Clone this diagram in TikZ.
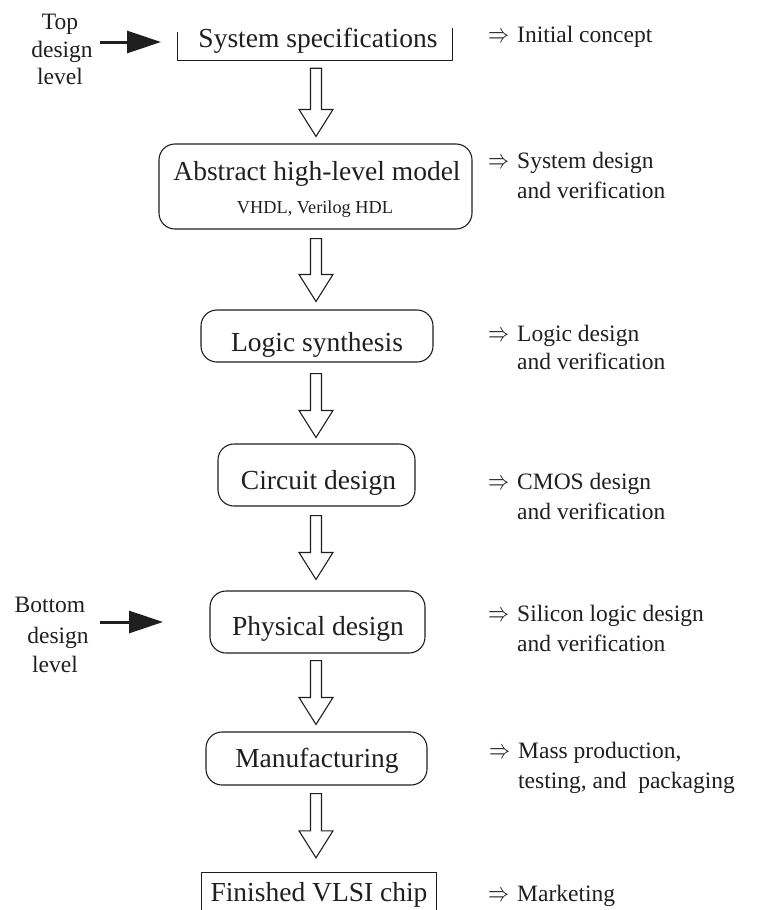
\documentclass[tikz,border=0pt]{standalone}
\usepackage{fontspec}
\setmainfont{Liberation Serif}
\usepackage{graphicx}
\usetikzlibrary{arrows.meta,calc}
\definecolor{ink}{gray}{0.12}
\tikzset{
  box/.style={draw=ink, line width=1.1pt, rounded corners=16pt, inner sep=0pt},
  plainbox/.style={inner sep=0pt},
  openline/.style={draw=ink, line width=1.1pt},
  boxtext/.style={inner sep=0pt, anchor=base, text=ink, font=\fontsize{27.5}{33}\selectfont},
  subtext/.style={inner sep=0pt, anchor=base, text=ink, font=\fontsize{18.3}{22}\selectfont},
  sidetext/.style={inner sep=0pt, anchor=base west, text=ink, font=\fontsize{23.5}{28}\selectfont},
  lefttext/.style={inner sep=0pt, anchor=base, text=ink, font=\fontsize{23.5}{28}\selectfont},
  implies/.style={inner sep=0pt, anchor=base west, text=ink},
  pointer/.style={draw=ink, line width=3pt, -{Triangle[length=34pt,width=22pt]}},
  blockarrow/.style 2 args={draw=ink, line width=1.1pt, line join=miter, to path={
    let \p1=(\tikztostart), \p2=(\tikztotarget) in
    (\x1-5.5pt,\y1-#1) -- (\x1-5.5pt,\y2+#2+27pt) -- (\x1-17pt,\y2+#2+27pt)
    -- (\x1,\y2+#2) -- (\x1+17pt,\y2+#2+27pt) -- (\x1+5.5pt,\y2+#2+27pt)
    -- (\x1+5.5pt,\y1-#1) -- cycle}},
}
\newcommand{\impl}{\scalebox{2.1}[2.7]{$\Rightarrow$}}
\begin{document}
\begin{tikzpicture}[x=1pt,y=-1pt]
\useasboundingbox (0,0) rectangle (761,910);
\coordinate (ax) at (316,0);

% ---- boxes ----
\node[plainbox, minimum width=274pt, minimum height=32pt] (b1) at (315,44) {};
\draw[openline] ([yshift=-4pt]b1.north west) -- (b1.south west) -- (b1.south east) -- (b1.north east);
\node[box, minimum width=313pt, minimum height=85pt] (b2) at (315.5,186.5) {};
\node[box, minimum width=232pt, minimum height=52pt] (b3) at (317,336) {};
\node[box, minimum width=197pt, minimum height=62pt] (b4) at (316.5,475) {};
\node[box, minimum width=215pt, minimum height=62pt] (b5) at (317.5,622) {};
\node[box, minimum width=221pt, minimum height=53pt] (b6) at (316.5,758.5) {};
\node[plainbox, minimum width=234pt, minimum height=40pt] (b7) at (319,893) {};
\draw[openline] (b7.south west) -- (b7.north west) -- (b7.north east) -- (b7.south east);

% ---- box texts ----
\node[boxtext] (t1) at (318,47) {System specifications};
\node[boxtext] (t2a) at (317,180) {Abstract high-level model};
\node[subtext] (t2b) at (315,213) {VHDL, Verilog HDL};
\node[boxtext] (t3) at (317,351) {Logic synthesis};
\node[boxtext] (t4) at (318.5,489) {Circuit design};
\node[boxtext] (t5) at (318,635) {Physical design};
\node[boxtext] (t6) at (317,767) {Manufacturing};
\node[boxtext] (t7) at (319,901) {Finished VLSI chip};

% ---- block arrows ----
\draw[blockarrow={8pt}{7pt}] (b1.south -| ax) to (b2.north -| ax);
\draw[blockarrow={9pt}{8pt}] (b2.south -| ax) to (b3.north -| ax);
\draw[blockarrow={11pt}{6pt}] (b3.south -| ax) to (b4.north -| ax);
\draw[blockarrow={9pt}{11pt}] (b4.south -| ax) to (b5.north -| ax);
\draw[blockarrow={7pt}{7pt}] (b5.south -| ax) to (b6.north -| ax);
\draw[blockarrow={8pt}{15pt}] (b6.south -| ax) to (b7.north -| ax);

% ---- left labels ----
\node[lefttext] (top1) at (60,29) {Top};
\node[lefttext] (top2) at (62,57) {design};
\node[lefttext] (top3) at (60,84) {level};
\coordinate (pa1) at (100,42);
\coordinate (pa2) at (161,42);
\draw[pointer] (pa1) -- (pa2);

\node[lefttext] (bot1) at (50,612) {Bottom};
\node[lefttext] (bot2) at (58,643) {design};
\node[lefttext] (bot3) at (55,672) {level};
\coordinate (pb1) at (100,622);
\coordinate (pb2) at (163,622);
\draw[pointer] (pb1) -- (pb2);

% ---- right labels ----
\node[implies] (i1) at (488,42) {\impl};
\node[sidetext] (r1) at (517,42) {Initial concept};
\node[implies] (i2) at (488,168) {\impl};
\node[sidetext] (r2a) at (517,168) {System design};
\node[sidetext] (r2b) at (517,198) {and verification};
\node[implies] (i3) at (488,341) {\impl};
\node[sidetext] (r3a) at (517,341) {Logic design};
\node[sidetext] (r3b) at (517,369) {and verification};
\node[implies] (i4) at (488,489) {\impl};
\node[sidetext] (r4a) at (517,489) {CMOS design};
\node[sidetext] (r4b) at (517,519) {and verification};
\node[implies] (i5) at (488,621) {\impl};
\node[sidetext] (r5a) at (517,621) {Silicon logic design};
\node[sidetext] (r5b) at (517,651) {and verification};
\node[implies] (i6) at (489,758) {\impl};
\node[sidetext] (r6a) at (518,758) {Mass production,};
\node[sidetext] (r6b) at (518,788) {testing, and~ packaging};
\node[implies] (i7) at (488,901) {\impl};
\node[sidetext] (r7) at (517,901) {Marketing};
\end{tikzpicture}
\end{document}
